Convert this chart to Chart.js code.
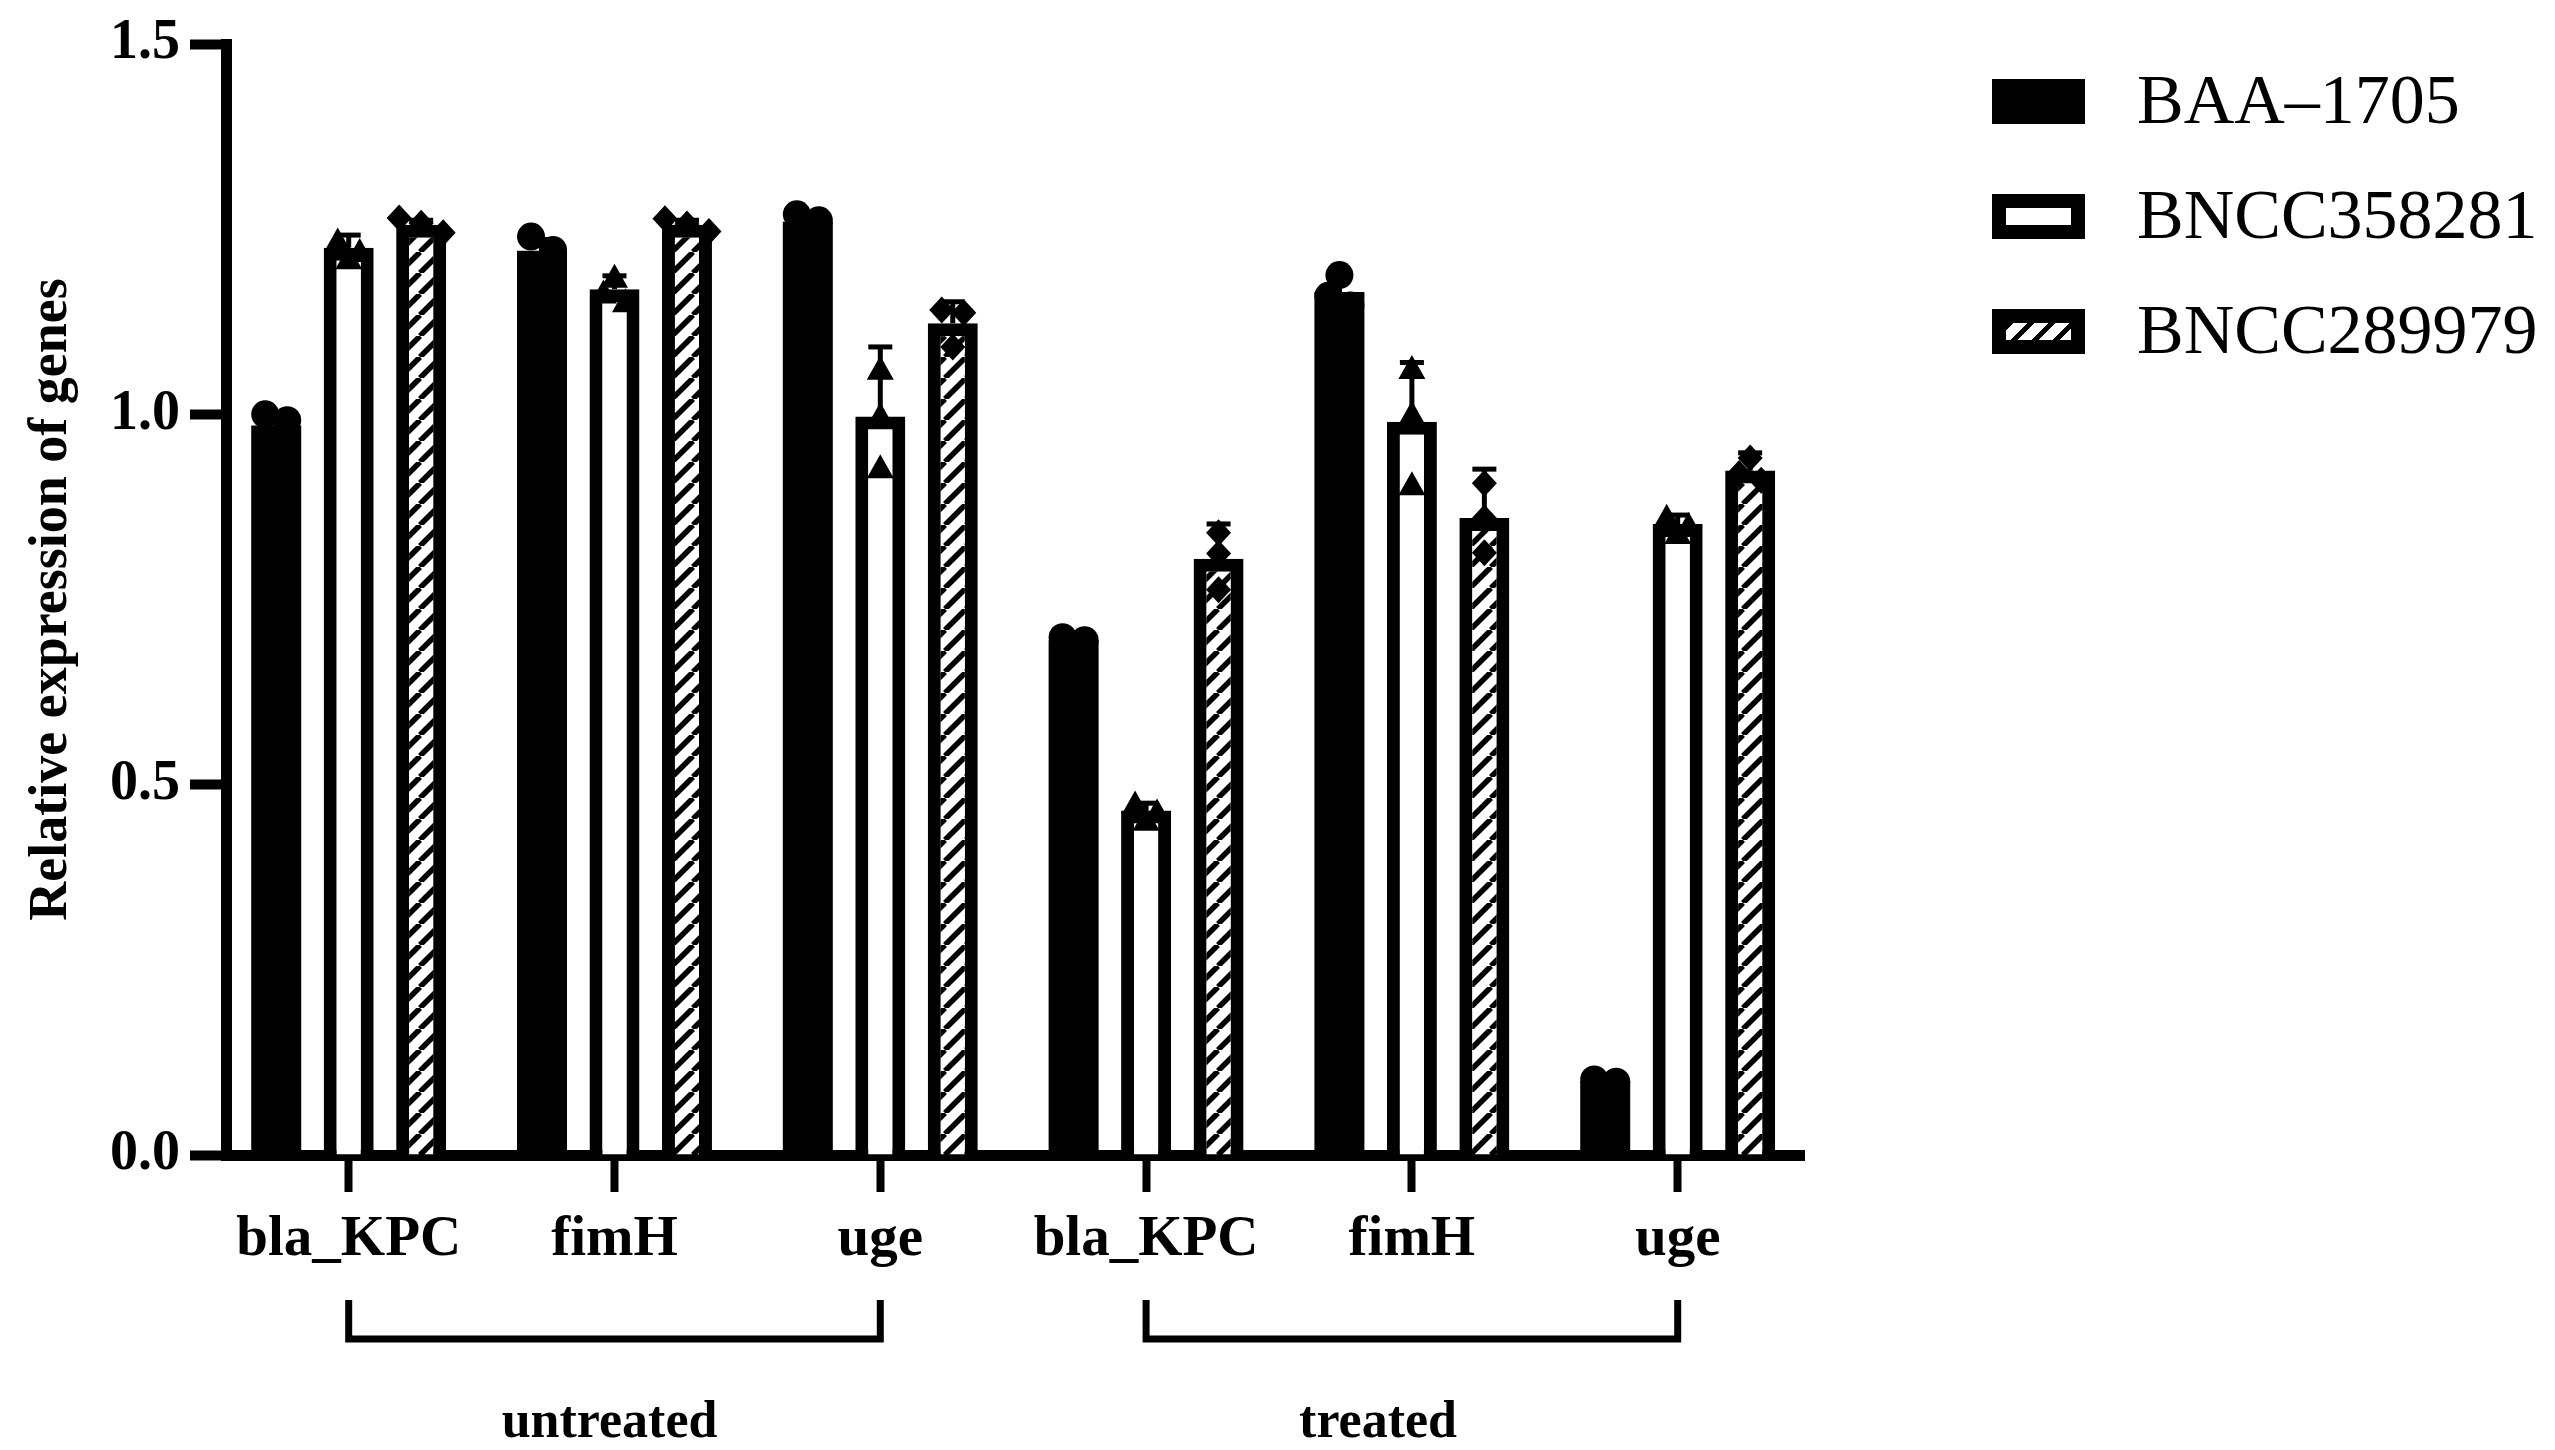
<!DOCTYPE html>
<html>
<head>
<meta charset="utf-8">
<title>Relative expression of genes</title>
<script src="https://cdn.jsdelivr.net/npm/chart.js@4.4.1/dist/chart.umd.min.js"></script>
<style>
  html, body { margin: 0; padding: 0; background: #fff; overflow: hidden; }
  #wrap { position: relative; width: 2555px; height: 1450px; }
  #legend { position: absolute; left: 1992px; top: 0; font-family: 'Liberation Serif', 'Times New Roman', serif; color: #000; }
  .legend-row { position: absolute; left: 0; width: 560px; height: 45px; }
  .legend-box { position: absolute; left: 0; top: 0; width: 93px; height: 45px; box-sizing: border-box; background: #000; }
  .legend-box.open { border: 14px solid #000; background: #fff; }
  .legend-box.hatch { border: 14px solid #000; background: repeating-linear-gradient(135deg, #000 0 5.3px, #fff 5.3px 14.85px); }
  .legend-text { position: absolute; left: 145px; top: -14px; font-size: 70px; line-height: 70px; white-space: nowrap; }
</style>
</head>
<body>
<div id="wrap">
  <canvas id="chart" width="2555" height="1450"></canvas>
  <div id="legend"></div>
</div>
<script>
// categories and groups
const categories = ['bla_KPC', 'fimH', 'uge', 'bla_KPC', 'fimH', 'uge'];
const groupNames = ['untreated', 'treated'];
const groupStart = [0, 3];
const groupEnd = [2, 5];
const seriesNames = ['BAA\u20131705', 'BNCC358281', 'BNCC289979'];

// bar heights (mean) and SD
const baaMean = [0.985, 1.221, 1.260, 0.695, 1.165, 0.100];
const baaSD = [0.010, 0.015, 0.008, 0.004, 0.020, 0.004];
const bncc358281Mean = [1.225, 1.169, 0.997, 0.465, 0.990, 0.852];
const bncc358281SD = [0.017, 0.018, 0.094, 0.010, 0.080, 0.012];
const bncc289979Mean = [1.256, 1.256, 1.123, 0.805, 0.860, 0.924];
const bncc289979SD = [0.006, 0.006, 0.029, 0.047, 0.066, 0.024];

// replicate points
const baaPoints = [[1.000, 0.992, 0.962], [1.240, 1.222, 1.200], [1.270, 1.262, 1.248], [0.699, 0.695, 0.670], [1.188, 1.160, 1.147], [0.102, 0.099, 0.080]];
const bncc358281Points = [[1.236, 1.222, 1.212], [1.187, 1.166, 1.154], [1.063, 1.000, 0.930], [0.476, 0.465, 0.454], [1.064, 1.002, 0.907], [0.863, 0.852, 0.841]];
const bncc289979Points = [[1.265, 1.258, 1.245], [1.264, 1.257, 1.247], [1.141, 1.137, 1.091], [0.840, 0.812, 0.763], [0.907, 0.860, 0.813], [0.941, 0.920, 0.911]];

const seriesMean = [baaMean, bncc358281Mean, bncc289979Mean];
const seriesSD = [baaSD, bncc358281SD, bncc289979SD];
const seriesPoints = [baaPoints, bncc358281Points, bncc289979Points];
const markerShapes = ['circle', 'triangle', 'diamond'];
const legendClasses = ['', 'open', 'hatch'];

const FONT = "'Liberation Serif', 'Times New Roman', serif";

// legend (HTML)
document.getElementById('legend').innerHTML = seriesNames.map((name, i) => `
  <div class="legend-row" style="top:${79 + i * 115}px">
    <div class="legend-box ${legendClasses[i]}"></div>
    <span class="legend-text">${name}</span>
  </div>`).join('');

const canvas = document.getElementById('chart');
const ctx = canvas.getContext('2d');

// diagonal hatch for the third series
function makeHatch() {
  const s = 21;
  const tile = document.createElement('canvas');
  tile.width = s; tile.height = s;
  const g = tile.getContext('2d');
  g.fillStyle = '#fff';
  g.fillRect(0, 0, s, s);
  g.strokeStyle = '#000';
  g.lineWidth = 5.5;
  g.beginPath();
  for (let k = -1; k <= 1; k++) { g.moveTo(k * s, s); g.lineTo(k * s + s, 0); }
  g.stroke();
  return ctx.createPattern(tile, 'repeat');
}

// points that sit close together get spread side by side
function spread(values) {
  const sorted = values.slice().sort((a, b) => b - a);
  const clusters = [];
  sorted.forEach(v => {
    const last = clusters[clusters.length - 1];
    if (last && last[0] - v < 0.02) last.push(v); else clusters.push([v]);
  });
  const out = [];
  clusters.forEach(c => c.forEach((v, k) => out.push([v, (k - (c.length - 1) / 2) * 22])));
  return out;
}

function drawMarker(c, shape, x, y) {
  c.beginPath();
  if (shape === 'circle') {
    c.arc(x, y, 14, 0, Math.PI * 2);
  } else if (shape === 'triangle') {
    c.moveTo(x, y - 12); c.lineTo(x + 13.5, y + 12); c.lineTo(x - 13.5, y + 12); c.closePath();
  } else {
    c.moveTo(x, y - 13.5); c.lineTo(x + 12.5, y); c.lineTo(x, y + 13.5); c.lineTo(x - 12.5, y); c.closePath();
  }
  c.fill();
}

const replicatesPlugin = {
  id: 'replicates',
  afterDatasetsDraw(chart) {
    const { ctx: c, scales: { y } } = chart;
    c.save();
    c.fillStyle = '#000';
    c.strokeStyle = '#000';
    chart.data.datasets.forEach((ds, d) => {
      chart.getDatasetMeta(d).data.forEach((bar, i) => {
        const top = y.getPixelForValue(seriesMean[d][i] + seriesSD[d][i]);
        c.lineWidth = 5;
        c.beginPath(); c.moveTo(bar.x, bar.y); c.lineTo(bar.x, top); c.stroke();
        c.beginPath(); c.moveTo(bar.x - 12, top); c.lineTo(bar.x + 12, top); c.stroke();
        spread(seriesPoints[d][i]).forEach(([v, dx]) => drawMarker(c, markerShapes[d], bar.x + dx, y.getPixelForValue(v)));
      });
    });
    c.restore();
  }
};

const groupsPlugin = {
  id: 'groups',
  afterDraw(chart) {
    const { ctx: c, scales: { x }, chartArea } = chart;
    const b = chartArea.bottom;
    c.save();
    c.strokeStyle = '#000';
    c.fillStyle = '#000';
    c.lineWidth = 7;
    c.lineJoin = 'miter';
    c.font = `bold 52px ${FONT}`;
    c.textAlign = 'left';
    c.textBaseline = 'alphabetic';
    groupNames.forEach((name, g) => {
      const x0 = x.getPixelForValue(groupStart[g]);
      const x1 = x.getPixelForValue(groupEnd[g]);
      c.beginPath();
      c.moveTo(x0, b + 145); c.lineTo(x0, b + 184); c.lineTo(x1, b + 184); c.lineTo(x1, b + 145);
      c.stroke();
      c.fillText(name, x0 + 153, b + 282);
    });
    c.restore();
  }
};

const xy = vals => vals.map((v, i) => ({ x: i, y: v }));

new Chart(ctx, {
  type: 'bar',
  data: {
    datasets: [
      { label: seriesNames[0], data: xy(baaMean), backgroundColor: '#000', borderColor: '#000', borderWidth: 0 },
      { label: seriesNames[1], data: xy(bncc358281Mean), backgroundColor: '#fff', borderColor: '#000', borderWidth: 13 },
      { label: seriesNames[2], data: xy(bncc289979Mean), backgroundColor: makeHatch(), borderColor: '#000', borderWidth: 13 }
    ]
  },
  options: {
    responsive: false,
    devicePixelRatio: 1,
    animation: false,
    events: [],
    categoryPercentage: 0.818,
    barPercentage: 0.69,
    layout: { padding: { top: 44, right: 751, bottom: 0, left: 0 } },
    plugins: { legend: { display: false }, tooltip: { enabled: false } },
    scales: {
      x: {
        type: 'linear',
        min: -0.4616,
        max: 5.4752,
        offset: false,
        afterBuildTicks: s => { s.ticks = categories.map((c, i) => ({ value: i })); },
        afterFit: s => { s.height = 295; },
        grid: { drawOnChartArea: false, offset: false, tickLength: 37, tickWidth: 8, tickColor: '#000' },
        border: { color: '#000', width: 11 },
        ticks: {
          callback: (v, i) => categories[i],
          font: { family: FONT, size: 57, weight: 'bold' },
          color: '#000', padding: 14, maxRotation: 0, autoSkip: false
        }
      },
      y: {
        min: 0,
        max: 1.5,
        afterFit: s => { s.width = 226; },
        grid: { drawOnChartArea: false, tickLength: 36, tickWidth: 10, tickColor: '#000' },
        border: { color: '#000', width: 11 },
        ticks: {
          stepSize: 0.5,
          callback: v => v.toFixed(1),
          font: { family: FONT, size: 56, weight: 'bold' },
          color: '#000', padding: 10
        },
        title: {
          display: true,
          text: 'Relative expression of genes',
          font: { family: FONT, size: 54, weight: 'bold' },
          color: '#000',
          padding: { top: 20, bottom: 0 }
        }
      }
    }
  },
  plugins: [replicatesPlugin, groupsPlugin]
});
</script>
</body>
</html>
